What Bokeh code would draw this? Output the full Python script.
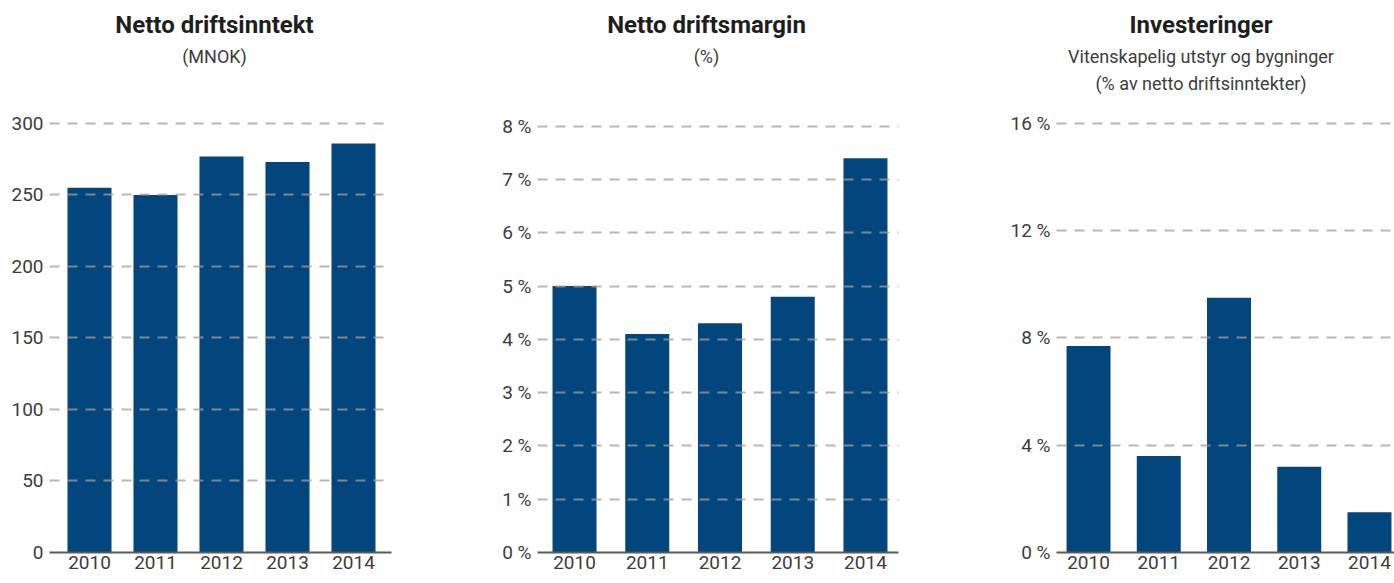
from bokeh.plotting import figure
from bokeh.layouts import row
from bokeh.models import Range1d, FixedTicker, PrintfTickFormatter, Label
from bokeh.embed import file_html
from bokeh.resources import INLINE

years = ["2010", "2011", "2012", "2013", "2014"]
inntekt = [255, 250, 277, 273, 286]          # MNOK
margin = [5.0, 4.1, 4.3, 4.8, 7.4]           # %
invest = [7.7, 3.6, 9.5, 3.2, 1.5]           # % av netto driftsinntekter

inntekt_ticks = [0, 50, 100, 150, 200, 250, 300]
margin_ticks = [0, 1, 2, 3, 4, 5, 6, 7, 8]
invest_ticks = [0, 4, 8, 12, 16]

titles1 = ["Netto driftsinntekt", "(MNOK)"]
titles2 = ["Netto driftsmargin", "(%)"]
titles3 = ["Investeringer", "Vitenskapelig utstyr og bygninger", "(% av netto driftsinntekter)"]

BAR = "#03457d"
FONT = "Roboto"
FRAME_H = 552


def panel(values, ticks, y_end, x_start, x_end, bar_w, frame_w, bl, br, fmt, titles, tx):
    xs = list(range(len(years)))
    p = figure(frame_width=frame_w, frame_height=FRAME_H,
               x_range=Range1d(x_start, x_end), y_range=Range1d(0, y_end),
               output_backend="svg", toolbar_location=None,
               min_border_left=bl, min_border_right=br, min_border_top=0,
               min_border_bottom=30)
    p.vbar(x=xs, top=values, width=bar_w, bottom=0, color=BAR, line_color=None)
    p.outline_line_color = None
    p.xgrid.visible = False
    p.ygrid.ticker = FixedTicker(ticks=ticks)
    p.ygrid.grid_line_color = "#a89d90"
    p.ygrid.grid_line_alpha = 0.75
    p.ygrid.grid_line_width = 2
    p.ygrid.grid_line_dash = "10 8"
    p.ygrid.level = "annotation"

    ya = p.yaxis[0]
    ya.ticker = FixedTicker(ticks=ticks)
    ya.axis_line_color = None
    ya.major_tick_line_color = None
    ya.minor_tick_line_color = None
    ya.major_tick_out = 0
    ya.major_label_standoff = 6
    ya.major_label_text_font = FONT
    ya.major_label_text_font_size = "19px"
    ya.major_label_text_color = "#3c3c3c"
    if fmt:
        ya.formatter = PrintfTickFormatter(format=fmt)

    xa = p.xaxis[0]
    xa.ticker = FixedTicker(ticks=xs)
    xa.major_label_overrides = {i: y for i, y in zip(xs, years)}
    xa.axis_line_color = "#5a5a5a"
    xa.axis_line_width = 2
    xa.major_tick_line_color = None
    xa.minor_tick_line_color = None
    xa.major_tick_out = 0
    xa.major_label_standoff = 3
    xa.major_label_text_font = FONT
    xa.major_label_text_font_size = "19px"
    xa.major_label_text_color = "#3c3c3c"

    ys = [FRAME_H - 24, FRAME_H - 56, FRAME_H - 83]
    for i, t in enumerate(titles):
        p.add_layout(Label(x=tx, y=ys[i], x_units="screen", y_units="screen", text=t,
                           text_align="center", text_baseline="middle",
                           text_font=FONT,
                           text_font_size="24px" if i == 0 else "18px",
                           text_font_style="bold" if i == 0 else "normal",
                           text_color="#1e1e1e" if i == 0 else "#3c3c3c"))
    return p


p1 = panel(inntekt, inntekt_ticks, 386.0, -0.606, 4.576, 0.667, 342, 49, 106, None, titles1, 165)
p2 = panel(margin, margin_ticks, 10.359, -0.509, 4.454, 0.605, 361, 40, 109, "%d %%", titles2, 169)
p3 = panel(invest, invest_ticks, 20.587, -0.456, 4.399, 0.626, 341, 46, 0, "%d %%", titles3, 144.5)

layout = row(p1, p2, p3, spacing=0)
open("out.html", "w").write(file_html(layout, INLINE))
